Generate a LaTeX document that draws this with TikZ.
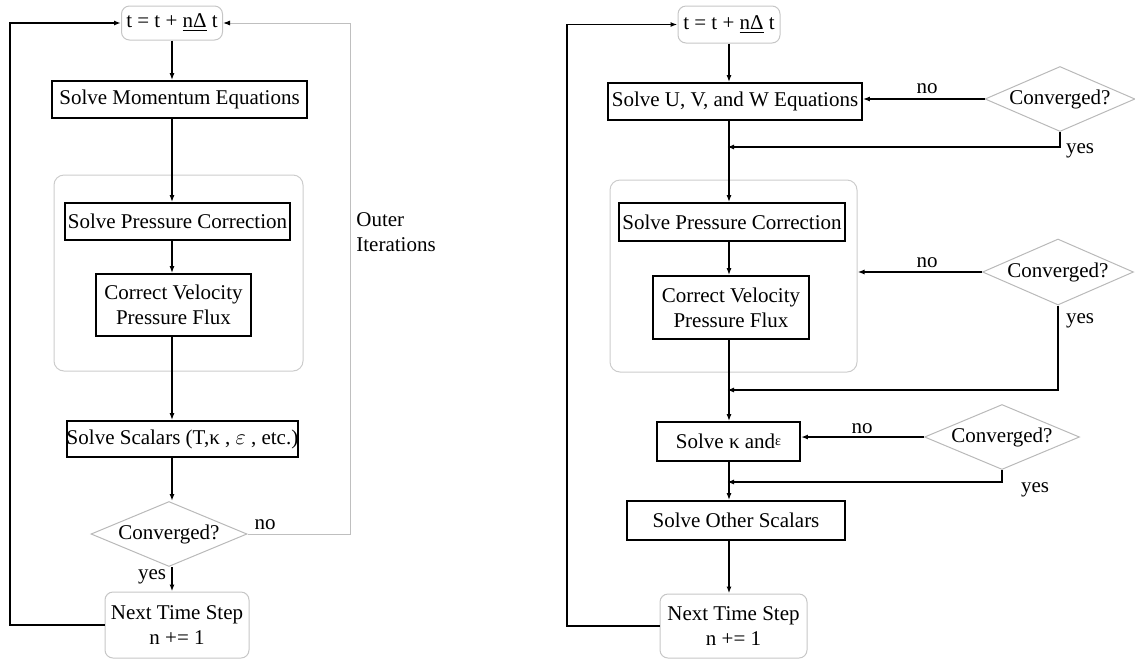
\documentclass[tikz,border=0pt]{standalone}
\usepackage{fontspec}
\setmainfont{Liberation Serif}
\usetikzlibrary{shapes.geometric,arrows.meta}

\begin{document}
\begin{tikzpicture}[x=0.5pt,y=-0.5pt,
  every node/.style={font=\fontsize{10.5}{12.5}\selectfont},
  procbox/.style={draw=black, line width=0.9pt, inner sep=0pt, align=center},
  timebox/.style={draw=gray!45, rounded corners=4pt, line width=0.5pt, inner sep=0pt, align=center},
  groupbox/.style={draw=gray!40, rounded corners=5pt, line width=0.5pt, inner sep=0pt},
  testbox/.style={diamond, draw=gray!55, line width=0.5pt, inner sep=0pt, aspect=2.3},
  flow/.style={line width=0.8pt, -{Latex[length=3.5pt,width=2.5pt]}},
  backflow/.style={draw=gray!50, line width=0.5pt, -{Latex[length=3.5pt,width=2.5pt,black]}},
  lbl/.style={inner sep=1pt}]

\useasboundingbox (0,0) rectangle (1135,660);

% Left chart: single loop
\node[groupbox, minimum width=124.5pt, minimum height=98pt] (grpL) at (178.5,273) {};
\node[timebox, minimum width=50.5pt, minimum height=17pt] (tL) at (172,23) {t = t + \underline{nΔ} t};
\node[procbox, minimum width=127.5pt, minimum height=18.5pt] (momL) at (179.5,99.5) {Solve Momentum Equations};
\node[procbox, minimum width=112.5pt, minimum height=18.5pt] (pcL) at (177.5,221.5) {Solve Pressure Correction};
\node[procbox, minimum width=77.5pt, minimum height=31pt] (cvL) at (173.5,305) {Correct Velocity\\Pressure Flux};
\node[procbox, minimum width=114.5pt, minimum height=18pt] (scL) at (182.5,439) {Solve Scalars (T,κ , $\varepsilon$ , etc.)};
\node[testbox, minimum width=78pt, minimum height=32.5pt] (convL) at (169,534) {Converged?};
\node[timebox, minimum width=72pt, minimum height=33pt] (nextL) at (177,625) {Next Time Step\\n += 1};

\node[lbl] (noL) at (265,525) {no};
\node[lbl] (yesL) at (152,577) {yes};
\node[lbl, anchor=west, align=left] (outer) at (354,232) {Outer\\Iterations};

\draw[flow] (tL) -- (tL |- momL.north);
\draw[flow] (tL |- momL.south) -- (tL |- pcL.north);
\draw[flow] (tL |- pcL.south) -- (tL |- cvL.north);
\draw[flow] (tL |- cvL.south) -- (tL |- scL.north);
\draw[flow] (tL |- scL.south) -- (tL |- convL.north);
\draw[flow] (tL |- convL.south) -- (tL |- nextL.north);

% loops back to the time step
\coordinate (lpL) at (10,23);
\coordinate (rpL) at (350,23);
\draw[flow] (nextL.west) -| (lpL) -- (tL.west);
\draw[backflow] (convL.east) -| (rpL) -- (tL.east);

% Right chart: inner loops
\node[groupbox, minimum width=123.5pt, minimum height=96pt] (grpR) at (733.5,276) {};
\node[timebox, minimum width=51pt, minimum height=18.5pt] (tR) at (729,24.5) {t = t + \underline{nΔ} t};
\node[procbox, minimum width=127pt, minimum height=18.5pt] (uvwR) at (735,101.5) {Solve U, V, and W Equations};
\node[procbox, minimum width=113pt, minimum height=19pt] (pcR) at (732,222) {Solve Pressure Correction};
\node[procbox, minimum width=78pt, minimum height=31.5pt] (cvR) at (731,307.5) {Correct Velocity\\Pressure Flux};
\node[procbox, minimum width=71.5pt, minimum height=19.5pt] (kR) at (728.5,441.5) {Solve κ and{\scriptsize\raisebox{0.5ex}{ε}}};
\node[procbox, minimum width=109pt, minimum height=19.5pt] (osR) at (736,520.5) {Solve Other Scalars};
\node[timebox, minimum width=73.5pt, minimum height=32pt] (nextR) at (733.5,626) {Next Time Step\\n += 1};

\node[testbox, minimum width=75pt, minimum height=32.5pt] (conv1) at (1060,99) {Converged?};
\node[testbox, minimum width=75.5pt, minimum height=33pt] (conv2) at (1058,272) {Converged?};
\node[testbox, minimum width=77.5pt, minimum height=32.5pt] (conv3) at (1002,437) {Converged?};

\node[lbl] (no1) at (927,89) {no};
\node[lbl] (yes1) at (1080,151) {yes};
\node[lbl] (no2) at (927,263) {no};
\node[lbl] (yes2) at (1080,321) {yes};
\node[lbl] (no3) at (862,429) {no};
\node[lbl] (yes3) at (1035,490) {yes};

\coordinate (j1) at (727,147);
\coordinate (j2) at (727,390);
\coordinate (j3) at (727,482);

\draw[flow] (tR) -- (tR |- uvwR.north);
\draw[flow] (tR |- uvwR.south) -- (tR |- pcR.north);
\draw[flow] (tR |- pcR.south) -- (tR |- cvR.north);
\draw[flow] (tR |- cvR.south) -- (tR |- kR.north);
\draw[flow] (tR |- kR.south) -- (tR |- osR.north);
\draw[flow] (tR |- osR.south) -- (tR |- nextR.north);

\draw[flow] (conv1.west) -- (conv1.west -| uvwR.east);
\draw[flow] (conv1.south) |- (j1);
\draw[flow] (conv2.west) -- (conv2.west -| grpR.east);
\draw[flow] (conv2.south) |- (j2);
\draw[flow] (conv3.west) -- (conv3.west -| kR.east);
\draw[flow] (conv3.south) |- (j3);

\coordinate (lpR) at (567,24.5);
\draw[flow] (nextR.west) -| (lpR) -- (tR.west);

\end{tikzpicture}
\end{document}
